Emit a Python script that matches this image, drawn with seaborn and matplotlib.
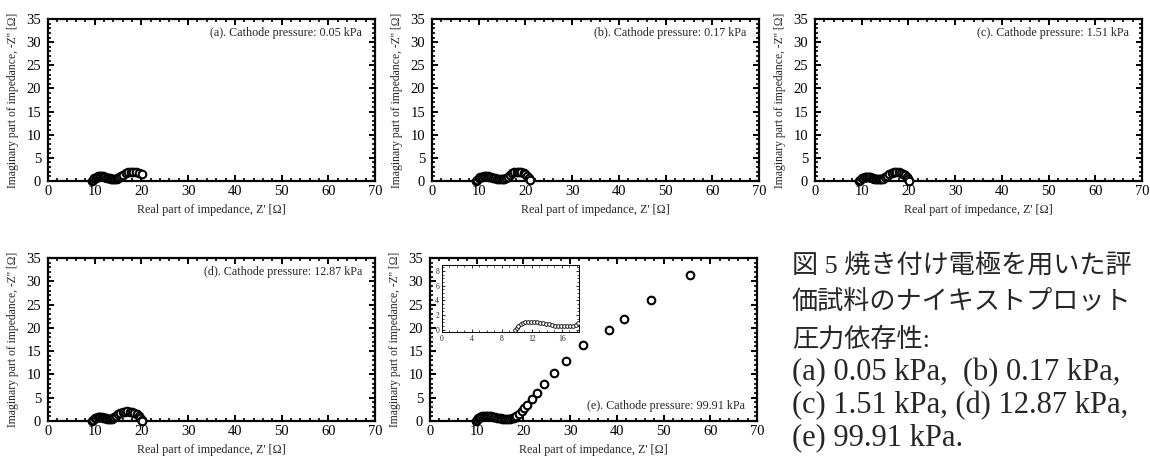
import matplotlib
matplotlib.use("Agg")
import matplotlib.pyplot as plt
import seaborn as sns
import pandas as pd
from matplotlib.ticker import MultipleLocator

# ---------------- data ----------------
a_x = [9.5, 9.7, 9.9, 10.2, 10.5, 10.8, 11.1, 11.4, 11.7, 12.0, 12.3, 12.6, 12.9, 13.2, 13.5,
       13.8, 14.1, 14.4, 14.7, 15.0, 15.3, 15.7, 16.1, 16.6, 17.1, 17.7, 18.3, 18.9, 19.5, 20.2]
a_y = [0.0, 0.3, 0.55, 0.75, 0.9, 1.0, 1.05, 1.05, 1.0, 0.95, 0.85, 0.75, 0.65, 0.55, 0.45,
       0.4, 0.35, 0.35, 0.4, 0.55, 0.8, 1.1, 1.4, 1.65, 1.85, 1.95, 1.95, 1.85, 1.7, 1.55]

b_x = [9.5, 9.7, 10.0, 10.3, 10.7, 11.1, 11.5, 11.9, 12.3, 12.7, 13.1, 13.5, 13.9, 14.3, 14.7,
       15.1, 15.5, 15.9, 16.3, 16.7, 17.1, 17.6, 18.1, 18.6, 19.1, 19.6, 20.0, 20.4, 20.7, 20.9]
b_y = [0.0, 0.3, 0.6, 0.8, 0.95, 1.05, 1.05, 1.0, 0.9, 0.8, 0.7, 0.6, 0.5, 0.45, 0.4,
       0.4, 0.45, 0.6, 0.9, 1.3, 1.65, 1.9, 2.05, 2.05, 1.95, 1.75, 1.45, 1.05, 0.6, 0.25]

c_x = [9.5, 9.7, 10.0, 10.3, 10.6, 10.9, 11.2, 11.5, 11.8, 12.1, 12.4, 12.7, 13.0, 13.3, 13.6,
       13.9, 14.2, 14.6, 15.0, 15.4, 15.9, 16.4, 16.9, 17.4, 17.9, 18.4, 18.9, 19.3, 19.7, 20.0, 20.2]
c_y = [0.0, 0.3, 0.55, 0.75, 0.85, 0.9, 0.9, 0.85, 0.8, 0.7, 0.6, 0.5, 0.45, 0.4, 0.35,
       0.35, 0.4, 0.5, 0.8, 1.15, 1.45, 1.7, 1.85, 1.9, 1.85, 1.75, 1.5, 1.2, 0.8, 0.4, 0.05]

d_x = [9.5, 9.7, 10.0, 10.3, 10.6, 10.9, 11.2, 11.5, 11.8, 12.1, 12.4, 12.7, 13.0, 13.3, 13.6,
       13.9, 14.2, 14.6, 15.0, 15.5, 16.0, 16.5, 17.0, 17.5, 18.0, 18.5, 19.0, 19.4, 19.8, 20.1, 20.2]
d_y = [0.0, 0.3, 0.55, 0.7, 0.8, 0.85, 0.85, 0.8, 0.75, 0.65, 0.55, 0.5, 0.45, 0.4, 0.45,
       0.6, 0.85, 1.15, 1.45, 1.7, 1.9, 2.0, 2.05, 2.0, 1.9, 1.7, 1.45, 1.1, 0.7, 0.3, 0.0]

e_x = [9.8, 10.0, 10.2, 10.5, 10.8, 11.1, 11.5, 11.9, 12.3, 12.7, 13.1, 13.5, 13.9, 14.3, 14.7,
       15.1, 15.5, 15.9, 16.3, 16.7, 17.1, 17.5, 17.9, 18.2, 18.5, 19.0, 19.6, 20.1, 20.7, 21.8,
       22.9, 24.5, 26.6, 29.1, 32.7, 38.4, 41.6, 47.3, 55.7]
e_y = [0.0, 0.3, 0.55, 0.75, 0.9, 1.0, 1.07, 1.1, 1.08, 1.03, 0.97, 0.9, 0.82, 0.72, 0.63,
       0.55, 0.5, 0.47, 0.47, 0.5, 0.53, 0.55, 0.7, 0.9, 1.1, 1.5, 2.1, 2.7, 3.4, 4.7,
       6.0, 8.0, 10.3, 12.8, 16.3, 19.6, 21.9, 25.9, 31.3]

panel_labels = ["(a). Cathode pressure: 0.05 kPa", "(b). Cathode pressure: 0.17 kPa",
                "(c). Cathode pressure: 1.51 kPa", "(d). Cathode pressure: 12.87 kPa",
                "(e). Cathode pressure: 99.91 kPa"]
x_label = "Real part of impedance, Z' [\u03a9]"
y_label = "Imaginary part of impedance, -Z'' [\u03a9]"
caption_cjk = ["図 5 焼き付け電極を用いた評",
               "価試料のナイキストプロット",
               "圧力依存性:"]
caption_latin = ["(a) 0.05 kPa,  (b) 0.17 kPa,",
                 "(c) 1.51 kPa, (d) 12.87 kPa,",
                 "(e) 99.91 kPa."]

# ---------------- style ----------------
sns.set_style("ticks")
plt.rcParams['font.family'] = ['Liberation Serif', 'DejaVu Serif']

W, H = 1150, 459
fig = plt.figure(figsize=(W / 100, H / 100), dpi=100)
fig.patch.set_facecolor('white')


def px_axes(left, top, right, bottom):
    return fig.add_axes([left / W, (H - bottom) / H, (right - left) / W, (bottom - top) / H])


def style_main(ax):
    ax.set_xlim(0, 70)
    ax.set_ylim(0, 35)
    ax.xaxis.set_major_locator(MultipleLocator(10))
    ax.xaxis.set_minor_locator(MultipleLocator(2))
    ax.yaxis.set_major_locator(MultipleLocator(5))
    ax.yaxis.set_minor_locator(MultipleLocator(1))
    for s in ax.spines.values():
        s.set_linewidth(1.6)
        s.set_color('black')
    ax.tick_params(which='both', direction='in', top=True, right=True, colors='black',
                   labelsize=10.5)
    ax.tick_params(axis='y', which='both', pad=5)
    ax.tick_params(axis='x', which='both', pad=3)
    ax.tick_params(which='major', length=4, width=1.4)
    ax.tick_params(which='minor', length=2.2, width=1.2)
    ax.set_xlabel(x_label, fontsize=8.7, labelpad=4)
    ax.set_ylabel(y_label, fontsize=8.4, labelpad=5)
    ax.set_facecolor('white')


positions = [(48, 19, 375, 181), (432, 19, 759, 181), (815, 19, 1142, 181),
             (48, 258, 375, 421), (430, 258, 757, 421)]
datasets = [(a_x, a_y), (b_x, b_y), (c_x, c_y), (d_x, d_y), (e_x, e_y)]

for i, (pos, (xs, ys)) in enumerate(zip(positions, datasets)):
    ax = px_axes(*pos)
    df = pd.DataFrame({"Zre": xs, "Zim": ys})
    sns.scatterplot(data=df, x="Zre", y="Zim", ax=ax, marker='o', s=30,
                    facecolor='white', edgecolor='black', linewidth=1.5, clip_on=False, zorder=3)
    style_main(ax)
    if i < 4:
        ax.text(0.96, 0.915, panel_labels[i], transform=ax.transAxes, ha='right', va='center',
                fontsize=8.7)
    else:
        ax.text(0.963, 0.095, panel_labels[i], transform=ax.transAxes, ha='right', va='center',
                fontsize=8.7)
        # inset
        ins = px_axes(442, 265, 579, 332)
        dfi = pd.DataFrame({"Zre": e_x[:24], "Zim": e_y[:24]})
        sns.scatterplot(data=dfi, x="Zre", y="Zim", ax=ins, marker='o', s=7,
                        facecolor='white', edgecolor='black', linewidth=0.6, zorder=3)
        ins.set_xlim(0, 18.3)
        ins.set_ylim(-0.3, 8.8)
        ins.xaxis.set_major_locator(MultipleLocator(4))
        ins.xaxis.set_minor_locator(MultipleLocator(1))
        ins.yaxis.set_major_locator(MultipleLocator(2))
        ins.yaxis.set_minor_locator(MultipleLocator(0.5))
        for s in ins.spines.values():
            s.set_linewidth(0.7)
            s.set_color('black')
        ins.tick_params(which='both', direction='in', top=True, right=True, labelsize=5.5, pad=2)
        ins.tick_params(which='major', length=2.2, width=0.7)
        ins.tick_params(which='minor', length=1.2, width=0.6)
        ins.set_xlabel("")
        ins.set_ylabel("")
        ins.set_facecolor('white')

# caption
for line, cy in zip(caption_cjk, [265, 302, 339]):
    fig.text(792 / W, (H - cy) / H, line, ha='left', va='center', fontsize=18.8,
             family=['Liberation Serif', 'Noto Sans CJK JP'])
for line, cy in zip(caption_latin, [373, 406, 438]):
    fig.text(792 / W, (H - cy) / H, line, ha='left', va='center', fontsize=22,
             family=['Liberation Serif', 'DejaVu Serif'])

fig.savefig("out.png", dpi=100, facecolor='white')
